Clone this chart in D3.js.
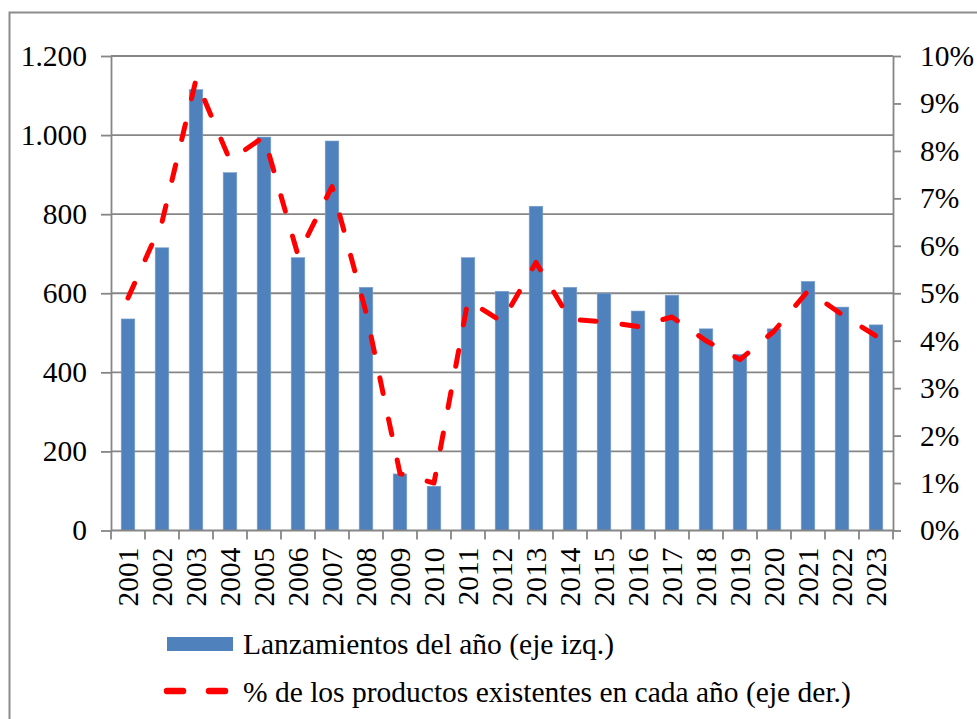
<!DOCTYPE html>
<html>
<head>
<meta charset="utf-8">
<script src="https://cdn.jsdelivr.net/npm/d3@7"></script>
<style>
  html, body { margin: 0; padding: 0; background: #fff; }
  svg { display: block; }
</style>
</head>
<body>
<svg id="chart" width="977" height="719"></svg>
<script>
// Years on the category axis
const years = ["2001","2002","2003","2004","2005","2006","2007","2008","2009","2010","2011","2012",
               "2013","2014","2015","2016","2017","2018","2019","2020","2021","2022","2023"];
// New launches per year (left axis)
const launches = [535, 715, 1115, 905, 995, 690, 985, 615, 143, 112, 690, 605,
                  820, 615, 600, 555, 595, 510, 445, 510, 630, 565, 520];
// Launches as % of products existing each year (right axis)
const sharePct = [4.9, 6.5, 9.5, 7.8, 8.3, 5.8, 7.25, 4.6, 1.2, 1.0, 4.85, 4.4,
                  5.65, 4.45, 4.4, 4.3, 4.5, 4.0, 3.6, 4.2, 5.05, 4.55, 4.1];
// Axis ticks
const leftTicks = [0, 200, 400, 600, 800, 1000, 1200];
const rightTicks = [0, 1, 2, 3, 4, 5, 6, 7, 8, 9, 10];
// Legend entries
const legendLabels = ["Lanzamientos del año (eje izq.)", "% de los productos existentes en cada año (eje der.)"];

const svg = d3.select("#chart");
const W = 977, H = 719;
const m = { left: 111, right: 893, top: 56, bottom: 530.5 };
const gridColor = "#868686";
const barColor = "#4F81BD";
const lineColor = "#FF0000";
const fontSize = 29.5;
const fontStyle = `font-family: "Liberation Serif", "Times New Roman", "Noto Serif", "DejaVu Serif", serif; font-size: ${fontSize}px; fill: #000;`;

// Outer chart frame
svg.append("rect")
  .attr("x", 9.5).attr("y", 12.5)
  .attr("width", W).attr("height", H)
  .attr("fill", "none").attr("stroke", "#8c8c8c").attr("stroke-width", 2);

const x = d3.scaleBand().domain(years).range([m.left, m.right])
  .paddingInner(0.6).paddingOuter(0.3);
const yL = d3.scaleLinear().domain([0, 1200]).range([m.bottom, m.top]);
const yR = d3.scaleLinear().domain([0, 10]).range([m.bottom, m.top]);

const esLocale = d3.formatLocale({ decimal: ",", thousands: ".", grouping: [3], currency: ["", ""] });
const fmtThousands = esLocale.format(",");

// Horizontal gridlines (left axis)
svg.append("g")
  .selectAll("line").data(leftTicks.filter(d => d > 0)).join("line")
  .attr("x1", m.left).attr("x2", m.right)
  .attr("y1", d => yL(d)).attr("y2", d => yL(d))
  .attr("stroke", gridColor).attr("stroke-width", 1.8);

// Bars
svg.append("g")
  .selectAll("rect").data(years).join("rect")
  .attr("x", d => x(d))
  .attr("width", x.bandwidth())
  .attr("y", (d, i) => yL(launches[i]))
  .attr("height", (d, i) => yL(0) - yL(launches[i]))
  .attr("fill", barColor)
  .attr("stroke", "#7EA1CC").attr("stroke-width", 0.6);

// Left axis
const gL = svg.append("g").attr("transform", `translate(${m.left},0)`)
  .call(d3.axisLeft(yL).tickValues(leftTicks).tickFormat(fmtThousands)
    .tickSize(10).tickSizeOuter(0).tickPadding(14));
// Right axis
const gR = svg.append("g").attr("transform", `translate(${m.right},0)`)
  .call(d3.axisRight(yR).tickValues(rightTicks).tickFormat(d => d + "%")
    .tickSize(8).tickSizeOuter(0).tickPadding(19));
[gL, gR].forEach(g => {
  g.attr("font-family", null).attr("font-size", null);
  g.select(".domain").attr("stroke", gridColor).attr("stroke-width", 1.8);
  g.selectAll(".tick line").attr("stroke", gridColor).attr("stroke-width", 1.8);
  g.selectAll(".tick text").attr("style", fontStyle);
});

// Category axis: baseline, boundary ticks and rotated year labels
const gX = svg.append("g");
gX.append("line")
  .attr("x1", m.left).attr("x2", m.right)
  .attr("y1", yL(0)).attr("y2", yL(0))
  .attr("stroke", gridColor).attr("stroke-width", 1.8);
const boundaries = d3.range(years.length + 1).map(i => m.left + i * x.step());
gX.selectAll("line.tk").data(boundaries).join("line").attr("class", "tk")
  .attr("x1", d => d).attr("x2", d => d)
  .attr("y1", yL(0)).attr("y2", yL(0) + 9)
  .attr("stroke", gridColor).attr("stroke-width", 1.8);
gX.selectAll("text").data(years).join("text")
  .attr("transform", d => `translate(${x(d) + x.bandwidth() / 2},${yL(0) + 17}) rotate(-90)`)
  .attr("text-anchor", "end")
  .attr("dy", "0.34em")
  .attr("style", fontStyle)
  .text(d => d);

// Dashed share line
const line = d3.line()
  .x((d, i) => x(years[i]) + x.bandwidth() / 2)
  .y(d => yR(d));
svg.append("path")
  .datum(sharePct)
  .attr("d", line)
  .attr("fill", "none")
  .attr("stroke", lineColor)
  .attr("stroke-width", 5)
  .attr("stroke-linecap", "round")
  .attr("stroke-linejoin", "round")
  .attr("stroke-dasharray", "16,26");

// Legend
const lg = svg.append("g");
lg.append("rect")
  .attr("x", 167).attr("y", 637).attr("width", 66).attr("height", 14)
  .attr("fill", barColor);
lg.append("line")
  .attr("x1", 167).attr("x2", 229).attr("y1", 691).attr("y2", 691)
  .attr("stroke", lineColor).attr("stroke-width", 6.5)
  .attr("stroke-linecap", "round").attr("stroke-dasharray", "16,26");
lg.selectAll("text").data(legendLabels).join("text")
  .attr("x", 243)
  .attr("y", (d, i) => [654, 702][i])
  .attr("style", fontStyle)
  .text(d => d);
</script>
</body>
</html>
